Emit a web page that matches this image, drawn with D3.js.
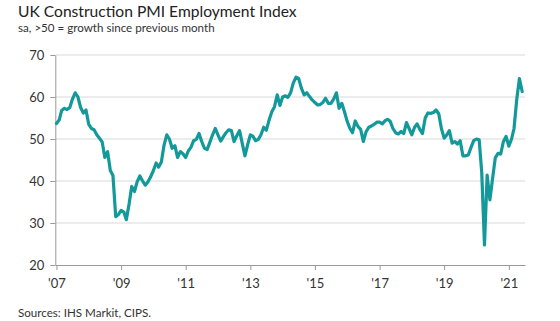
<!DOCTYPE html>
<html>
<head>
<meta charset="utf-8">
<script src="https://cdn.jsdelivr.net/npm/d3@7"></script>
<style>
  body { margin: 0; background: #fff; }
  text { font-family: Lato, "Noto Sans", sans-serif; }
</style>
</head>
<body>
<div id="chart"></div>
<script>
// UK Construction PMI, employment index, monthly from Jan 2007
const startYear = 2007;
const pmi = [
  53.7, 54.5, 56.8, 57.3, 57.0, 57.5, 59.5, 61.0, 60.0, 57.5, 56.2, 56.9, // 2007
  53.5, 52.5, 52.2, 51.0, 50.2, 49.3, 45.6, 47.0, 42.5, 41.3, 31.5, 32.0, // 2008
  33.0, 32.6, 30.8, 34.5, 38.7, 37.5, 39.8, 41.2, 40.0, 39.0, 39.8, 41.0, // 2009
  42.5, 44.3, 43.3, 44.5, 48.5, 51.0, 50.0, 47.8, 48.4, 45.6, 47.0, 46.5, // 2010
  45.6, 47.2, 48.0, 49.6, 49.9, 51.3, 49.4, 47.8, 47.5, 49.2, 51.0, 52.5, // 2011
  51.0, 49.5, 50.5, 51.5, 52.2, 52.0, 49.4, 50.8, 52.0, 49.0, 46.0, 48.6, // 2012
  51.0, 50.6, 49.6, 49.9, 51.0, 52.8, 52.1, 54.5, 56.5, 57.7, 60.5, 58.0, // 2013
  60.0, 60.3, 59.9, 61.0, 63.3, 64.7, 64.4, 62.1, 60.5, 61.0, 60.1, 59.3, // 2014
  58.7, 58.1, 58.2, 58.7, 59.7, 58.5, 58.5, 59.5, 61.0, 57.3, 58.5, 56.5, // 2015
  54.2, 52.5, 51.5, 54.3, 53.0, 52.3, 49.4, 51.7, 52.8, 53.1, 53.5, 54.0, // 2016
  54.0, 53.6, 54.3, 54.7, 54.2, 52.5, 51.5, 51.2, 51.8, 51.3, 53.9, 52.5, // 2017
  51.0, 52.8, 53.6, 52.3, 51.3, 55.0, 56.2, 56.1, 56.3, 56.9, 56.0, 52.5, // 2018
  50.2, 51.0, 52.0, 49.0, 49.4, 48.8, 49.6, 46.0, 46.0, 46.2, 48.0, 49.6, // 2019
  50.0, 49.8, 42.0, 24.8, 41.4, 35.5, 40.5, 45.5, 46.6, 46.4, 49.4, 50.6, // 2020
  48.3, 50.0, 52.5, 59.5, 64.4, 61.3                                      // 2021
];
const yTicks = [20, 30, 40, 50, 60, 70];
const xTickYears = [2007, 2009, 2011, 2013, 2015, 2017, 2019, 2021];

const title = "UK Construction PMI Employment Index";
const subtitle = "sa, >50 = growth since previous month";
const source = "Sources: IHS Markit, CIPS.";

const W = 560, H = 321;
const margin = { left: 55.3, right: 525, top: 55, bottom: 265 };

const data = pmi.map((v, i) => ({ date: new Date(startYear, i, 1), value: v }));

const svg = d3.select("#chart").append("svg")
  .attr("width", W)
  .attr("height", H);

svg.append("rect").attr("width", W).attr("height", H).attr("fill", "#fff");

const x = d3.scaleTime()
  .domain([new Date(2006, 11, 19), new Date(2021, 6, 3)])
  .range([margin.left, margin.right]);

const y = d3.scaleLinear()
  .domain([20, 70])
  .range([margin.bottom, margin.top]);

// grid
svg.append("g")
  .selectAll("line")
  .data(yTicks.filter(d => d > 20))
  .enter()
  .append("line")
  .attr("x1", margin.left)
  .attr("x2", margin.right)
  .attr("y1", d => y(d))
  .attr("y2", d => y(d))
  .attr("stroke", "#d9d9d9")
  .attr("stroke-width", 1);

// axes
const yAxis = svg.append("g")
  .attr("transform", `translate(${margin.left},0)`)
  .call(d3.axisLeft(y).tickValues(yTicks).tickSize(5).tickSizeOuter(0).tickPadding(6));

const xAxis = svg.append("g")
  .attr("transform", `translate(0,${margin.bottom})`)
  .call(d3.axisBottom(x)
    .tickValues(xTickYears.map(yr => new Date(yr, 0, 1)))
    .tickFormat(d => "'" + d3.timeFormat("%y")(d))
    .tickSize(5).tickSizeOuter(0).tickPadding(9));

[yAxis, xAxis].forEach(g => {
  g.select(".domain").attr("stroke", "#999");
  g.selectAll(".tick line").attr("stroke", "#999");
  g.selectAll(".tick text")
    .attr("fill", "#333")
    .style("font-size", "13px")
    .style("font-family", "Lato, sans-serif");
});

// the line
const line = d3.line()
  .x(d => x(d.date))
  .y(d => y(d.value));

svg.append("path")
  .datum(data)
  .attr("d", line)
  .attr("fill", "none")
  .attr("stroke", "#14999a")
  .attr("stroke-width", 3.2)
  .attr("stroke-linejoin", "round")
  .attr("stroke-linecap", "round");

// texts
svg.append("text")
  .attr("x", 18).attr("y", 17)
  .attr("font-size", 15.6)
  .attr("fill", "#222")
  .text(title);

svg.append("text")
  .attr("x", 18).attr("y", 32)
  .attr("font-size", 11.6)
  .attr("fill", "#333")
  .text(subtitle);

svg.append("text")
  .attr("x", 18).attr("y", 317)
  .attr("font-size", 11.6)
  .attr("fill", "#333")
  .text(source);
</script>
</body>
</html>
